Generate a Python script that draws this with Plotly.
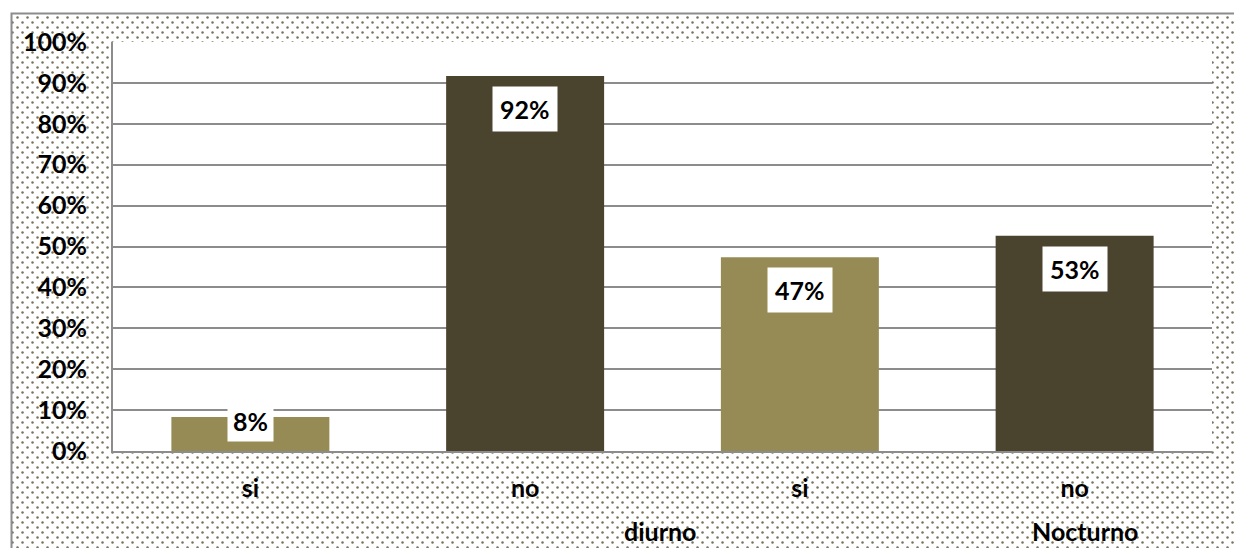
import base64
import plotly.graph_objects as go

# ---- data ----
categories = ["si", "no", "si", "no"]
groups = ["diurno", "Nocturno"]
values = [0.083, 0.917, 0.474, 0.526]
value_labels = ["8%", "92%", "47%", "53%"]
bar_colors = ["#968B55", "#4A432D", "#968B55", "#4A432D"]
y_ticks = [i / 10 for i in range(11)]
y_ticklabels = [f"{i*10}%" for i in range(11)]

W, H = 1234, 548
ML, MR, MT, MB = 113, 22, 42, 97
PW, PH = W - ML - MR, H - MT - MB
FONT = "Lato"
FS = 25

# dotted background pattern (chart area fill)
svg = f'''<svg xmlns="http://www.w3.org/2000/svg" width="{W}" height="{H}" viewBox="0 0 {W} {H}">
<defs><pattern id="p" x="0" y="0" width="10" height="10" patternUnits="userSpaceOnUse">
<rect width="10" height="10" fill="#ffffff"/>
<circle cx="2.5" cy="2.5" r="1.25" fill="#77735e"/>
<circle cx="7.5" cy="7.5" r="1.25" fill="#77735e"/>
</pattern></defs>
<rect x="0" y="0" width="{W}" height="{H}" fill="#ffffff"/>
<rect x="11.5" y="13.5" width="{W+20}" height="{H+20}" fill="url(#p)" stroke="#8c8c8c" stroke-width="2"/>
</svg>'''
src = "data:image/svg+xml;base64," + base64.b64encode(svg.encode()).decode()

x_idx = list(range(len(categories)))

fig = go.Figure()
fig.add_trace(go.Bar(
    x=x_idx, y=values, marker=dict(color=bar_colors, line=dict(width=0)),
    width=0.575, hoverinfo="skip", showlegend=False,
))

annotations = []
for i, (v, lab) in enumerate(zip(values, value_labels)):
    if v * PH > 62:
        annotations.append(dict(x=i, y=v, xref="x", yref="y", text=f"<b>{lab}</b>",
                                showarrow=False, yanchor="top", yshift=-10,
                                bgcolor="white", borderpad=7,
                                font=dict(family=FONT, size=FS, color="black")))
    else:
        annotations.append(dict(x=i, y=0, xref="x", yref="y", text=f"<b>{lab}</b>",
                                showarrow=False, yanchor="bottom", yshift=9,
                                bgcolor="white", borderpad=5,
                                font=dict(family=FONT, size=FS, color="black")))

group_pos = [(660 - ML) / PW, (1085 - ML) / PW]
for g, gx in zip(groups, group_pos):
    annotations.append(dict(x=gx, y=(451 - 531) / PH, xref="paper", yref="paper",
                            text=f"<b>{g}</b>", showarrow=False,
                            xanchor="center", yanchor="middle",
                            font=dict(family=FONT, size=FS, color="black")))

fig.update_layout(
    width=W, height=H,
    margin=dict(l=ML, r=MR, t=MT, b=MB, pad=0),
    paper_bgcolor="white", plot_bgcolor="rgba(0,0,0,0)",
    font=dict(family=FONT, size=FS, color="black"),
    bargap=0.425,
    images=[dict(source=src, xref="paper", yref="paper",
                 x=-ML / PW, y=1 + MT / PH, sizex=W / PW, sizey=H / PH,
                 xanchor="left", yanchor="top", sizing="stretch", layer="below")],
    shapes=[dict(type="rect", xref="paper", yref="paper", x0=0, x1=1, y0=0, y1=1,
                 fillcolor="white", line=dict(width=0), layer="below")],
    annotations=annotations,
    xaxis=dict(tickmode="array", tickvals=x_idx,
               ticktext=[f"<b>{c}</b>" for c in categories],
               range=[-0.5, len(categories) - 0.5], showgrid=False,
               showline=True, linecolor="#8c8c8c", linewidth=2,
               ticks="", ticklabelstandoff=14, zeroline=False, fixedrange=True),
    yaxis=dict(range=[0, 1], tickmode="array", tickvals=y_ticks,
               ticktext=[f"<b>{t}</b>" for t in y_ticklabels],
               showgrid=True, gridcolor="#8c8c8c", gridwidth=1.5,
               showline=True, linecolor="#8c8c8c", linewidth=2,
               ticks="", ticklabelstandoff=19, zeroline=False, fixedrange=True),
)

fig.write_html("out.html", config={"displayModeBar": False},
               post_script="document.body.style.margin='0';document.body.style.overflow='hidden';")
